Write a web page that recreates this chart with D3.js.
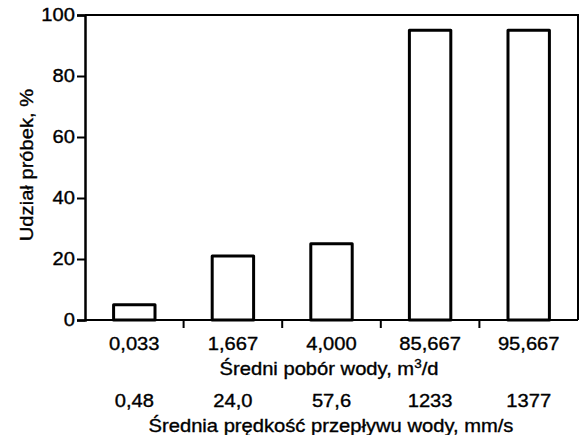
<!DOCTYPE html>
<html>
<head>
<meta charset="utf-8">
<script src="https://cdn.jsdelivr.net/npm/d3@7"></script>
<style>
  body { margin: 0; background: #fff; }
  svg text { font-family: "Liberation Sans", Arial, sans-serif; fill: #000; stroke: #000; stroke-width: 0.35; }
</style>
</head>
<body>
<svg width="586" height="435"></svg>
<script>
const intake = ["0,033", "1,667", "4,000", "85,667", "95,667"];
const speed = ["0,48", "24,0", "57,6", "1233", "1377"];
const share = [5, 21, 25, 95, 95];
const yTicks = [0, 20, 40, 60, 80, 100];

const svg = d3.select("svg");
const plotL = 85, plotR = 578, plotT = 15, plotB = 320;
const fs = 18, sx = 1.12; // the scan's lettering is a bit wide

const x = d3.scaleBand().domain(intake).range([plotL, plotR]).padding(0);
const y = d3.scaleLinear().domain([0, 100]).range([plotB, plotT]);
const barW = x.bandwidth() * 0.42;

// frame: top and right
svg.append("path")
  .attr("d", `M${plotL},${plotT}H${plotR}V${plotB}`)
  .attr("fill", "none")
  .attr("stroke", "#000")
  .attr("stroke-width", 2);

// bars
svg.append("g")
  .selectAll("rect")
  .data(share)
  .enter()
  .append("rect")
  .attr("x", (d, i) => x(intake[i]) + (x.bandwidth() - barW) / 2)
  .attr("y", (d) => y(d))
  .attr("width", barW)
  .attr("height", (d) => y(0) - y(d))
  .attr("fill", "#fff")
  .attr("stroke", "#000")
  .attr("stroke-width", 3)
  .attr("stroke-linejoin", "round");

// y axis
const yAxis = svg.append("g")
  .attr("transform", `translate(${plotL},0)`)
  .call(d3.axisLeft(y).tickValues(yTicks).tickSize(8).tickPadding(2));
yAxis.select(".domain").attr("stroke-width", 2.5);
yAxis.selectAll(".tick line").attr("stroke-width", 2);
yAxis.selectAll("text")
  .attr("x", 0)
  .attr("transform", `translate(-10,0) scale(${sx},1)`)
  .attr("font-size", fs)
  .attr("font-family", "Liberation Sans, Arial, sans-serif");

// x axis baseline and boundary ticks
svg.append("line")
  .attr("x1", plotL).attr("x2", plotR)
  .attr("y1", y(0)).attr("y2", y(0))
  .attr("stroke", "#000").attr("stroke-width", 2);

svg.append("g")
  .selectAll("line")
  .data(intake.slice(1))
  .enter()
  .append("line")
  .attr("x1", (d) => x(d)).attr("x2", (d) => x(d))
  .attr("y1", y(0)).attr("y2", y(0) + 8)
  .attr("stroke", "#000").attr("stroke-width", 2);

// first row of labels
const xAxis1 = svg.append("g")
  .attr("transform", `translate(0,${y(0)})`)
  .call(d3.axisBottom(x).tickSize(0).tickPadding(17));
xAxis1.select(".domain").remove();
xAxis1.selectAll("text")
  .attr("transform", `scale(${sx},1)`)
  .attr("font-size", fs)
  .attr("font-family", "Liberation Sans, Arial, sans-serif");

// second row of labels
const xAxis2 = svg.append("g")
  .attr("transform", `translate(0,${y(0) + 57})`)
  .call(d3.axisBottom(x).tickSize(0).tickPadding(17).tickFormat((d, i) => speed[i]));
xAxis2.select(".domain").remove();
xAxis2.selectAll("text")
  .attr("transform", `scale(${sx},1)`)
  .attr("font-size", fs)
  .attr("font-family", "Liberation Sans, Arial, sans-serif");

// axis titles
const t1 = svg.append("text")
  .attr("transform", `translate(329,375) scale(${sx},1)`)
  .attr("text-anchor", "middle")
  .attr("font-size", fs);
t1.append("tspan").text("Średni pobór wody, m");
t1.append("tspan").attr("font-size", 12).attr("dy", -7).text("3");
t1.append("tspan").attr("dy", 7).text("/d");

svg.append("text")
  .attr("transform", `translate(331,432) scale(${sx},1)`)
  .attr("text-anchor", "middle")
  .attr("font-size", fs)
  .text("Średnia prędkość przepływu wody, mm/s");

svg.append("text")
  .attr("transform", `translate(33,165) rotate(-90) scale(${sx},1)`)
  .attr("text-anchor", "middle")
  .attr("font-size", fs)
  .text("Udział próbek, %");
</script>
</body>
</html>
